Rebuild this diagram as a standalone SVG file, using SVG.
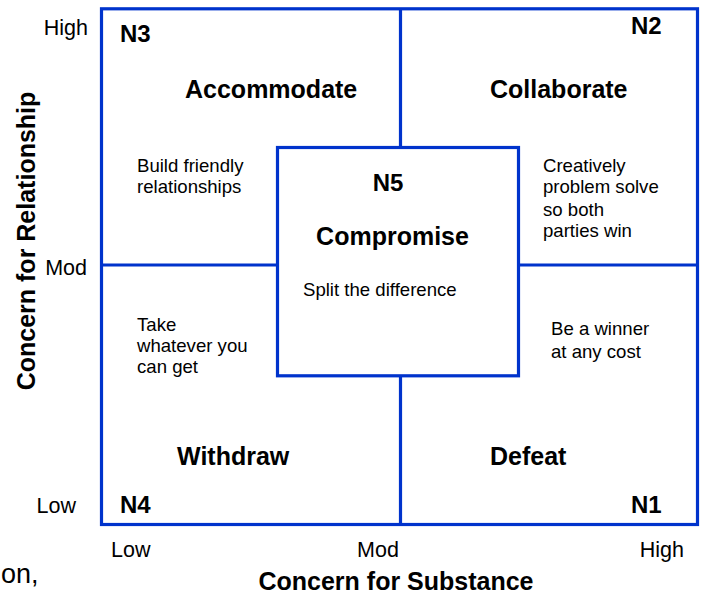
<svg xmlns="http://www.w3.org/2000/svg" width="706" height="596" viewBox="0 0 706 596">
<style>
.ln{fill:none;stroke:#0033cc;stroke-width:3.2}
.bx{fill:#ffffff;stroke:#0033cc;stroke-width:3.2}
text{font-family:"Liberation Sans",Arial,sans-serif;fill:#000}
.t{font-size:18.6px}
.ax{font-size:21.5px}
.h{font-size:25px;font-weight:bold}
.n{font-size:24px;font-weight:bold}
</style>
<rect width="706" height="596" fill="#ffffff"/>
<g id="grid">
<rect class="ln" x="101.5" y="8.8" width="596" height="515.7"/>
<line class="ln" x1="400.5" y1="8.8" x2="400.5" y2="524.5"/>
<line class="ln" x1="101.5" y1="265" x2="697.5" y2="265"/>
</g>
<g id="N3">
<text class="n" x="120" y="42">N3</text>
<text class="h" x="185" y="98">Accommodate</text>
<text class="t" x="137" y="172">Build friendly</text>
<text class="t" x="137" y="193">relationships</text>
</g>
<g id="N2">
<text class="n" x="631" y="34">N2</text>
<text class="h" x="490" y="98">Collaborate</text>
<text class="t" x="543" y="172">Creatively</text>
<text class="t" x="543" y="193">problem solve</text>
<text class="t" x="543" y="216">so both</text>
<text class="t" x="543" y="237">parties win</text>
</g>
<g id="N4">
<text class="t" x="137" y="331">Take</text>
<text class="t" x="137" y="352">whatever you</text>
<text class="t" x="137" y="373">can get</text>
<text class="h" x="177" y="465">Withdraw</text>
<text class="n" x="120" y="513">N4</text>
</g>
<g id="N1">
<text class="t" x="551" y="335">Be a winner</text>
<text class="t" x="551" y="358">at any cost</text>
<text class="h" x="490" y="465">Defeat</text>
<text class="n" x="631" y="513">N1</text>
</g>
<g id="N5">
<rect class="bx" x="277.5" y="147.5" width="241" height="228.3"/>
<text class="n" x="388" y="191" text-anchor="middle">N5</text>
<text class="h" x="392.5" y="245" text-anchor="middle">Compromise</text>
<text class="t" x="303" y="296">Split the difference</text>
</g>
<g id="axes">
<text class="ax" x="88" y="35" text-anchor="end">High</text>
<text class="ax" x="87" y="275" text-anchor="end">Mod</text>
<text class="ax" x="76" y="513" text-anchor="end">Low</text>
<text class="ax" x="111" y="557">Low</text>
<text class="ax" x="378" y="557" text-anchor="middle">Mod</text>
<text class="ax" x="684" y="557" text-anchor="end">High</text>
<text class="h" x="396" y="590" text-anchor="middle">Concern for Substance</text>
<text class="h" transform="translate(35,241) rotate(-90)" text-anchor="middle">Concern for Relationship</text>
<text x="1" y="583" style="font-size:27px">on,</text>
</g>
</svg>
